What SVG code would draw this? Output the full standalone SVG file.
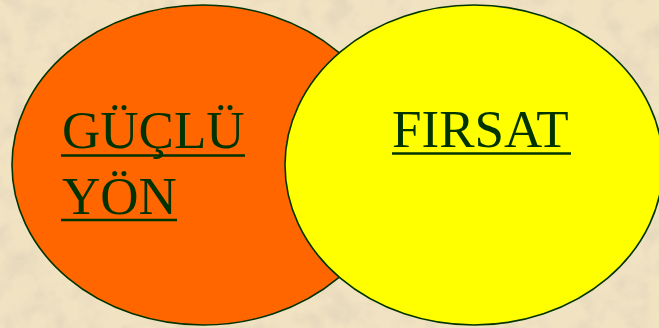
<svg xmlns="http://www.w3.org/2000/svg" width="659" height="328" viewBox="0 0 659 328">
  <defs>
    <filter id="parchment" x="0" y="0" width="100%" height="100%">
      <feTurbulence type="fractalNoise" baseFrequency="0.04" numOctaves="4" seed="7" result="noise"/>
      <feColorMatrix in="noise" type="matrix" values="0 0 0 0 0.78  0 0 0 0 0.68  0 0 0 0 0.50  0 0 0 2.2 -0.85" result="tint"/>
      <feComposite in="tint" in2="SourceGraphic" operator="over"/>
    </filter>
    <style>
      .ell { stroke: #003300; stroke-width: 1.6; }
      .lbl { font-family: "Liberation Serif", "Times New Roman", serif; font-size: 53px; fill: #003300; }
      .ul { stroke: #003300; stroke-width: 2.6; }
    </style>
  </defs>
  <rect x="0" y="0" width="659" height="328" fill="#f1e3c2" filter="url(#parchment)"/>
  <g id="guclu-yon">
    <ellipse class="ell" cx="203" cy="165" rx="191" ry="160" fill="#ff6600"/>
    <text class="lbl" x="62" y="148">GÜÇLÜ</text>
    <line class="ul" x1="61" y1="155.5" x2="245" y2="155.5"/>
    <text class="lbl" x="62" y="214">YÖN</text>
    <line class="ul" x1="61" y1="220" x2="177" y2="220"/>
  </g>
  <g id="firsat">
    <ellipse class="ell" cx="474" cy="165" rx="189" ry="160" fill="#ffff00"/>
    <text class="lbl" x="392" y="147">FIRSAT</text>
    <line class="ul" x1="392" y1="153.5" x2="571" y2="153.5"/>
  </g>
  <g id="connectors"/>
</svg>
